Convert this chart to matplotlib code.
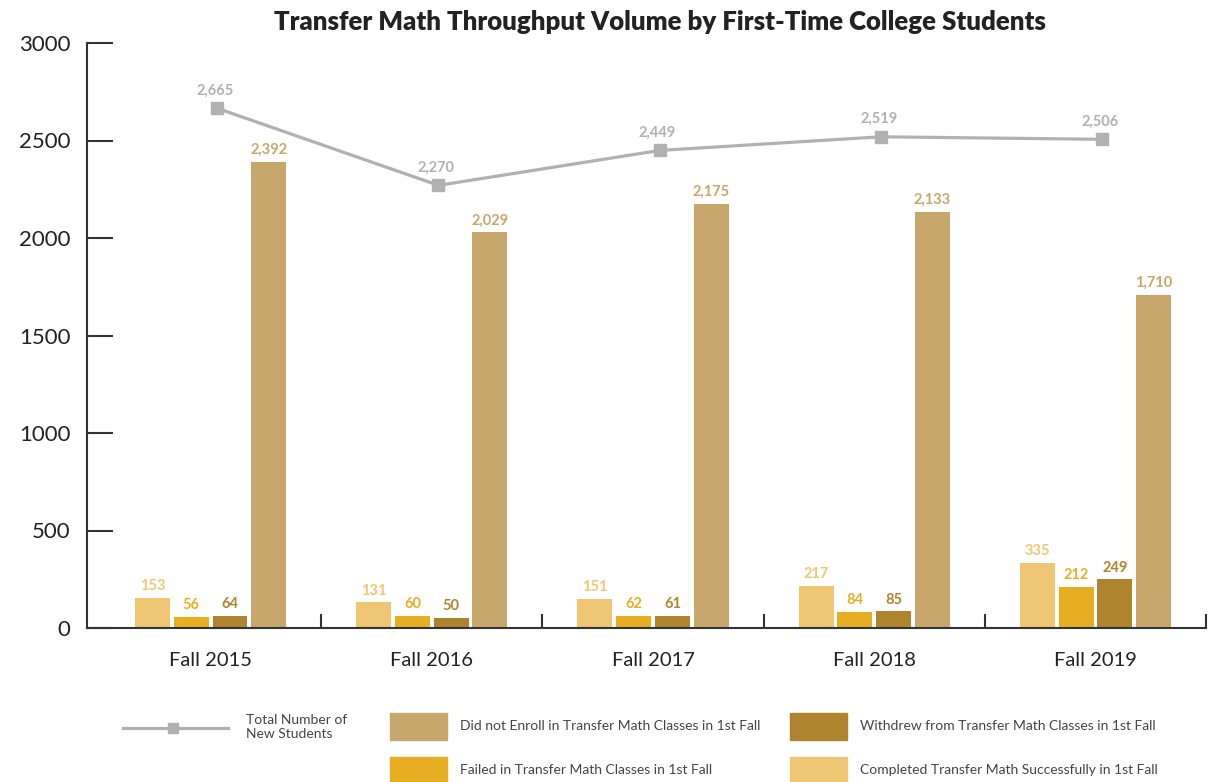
import numpy as np
import matplotlib
matplotlib.use("Agg")
import matplotlib.pyplot as plt
from matplotlib.patches import Rectangle
from matplotlib.lines import Line2D

plt.rcParams['font.family'] = ['Lato', 'DejaVu Sans']

terms = ["Fall 2015", "Fall 2016", "Fall 2017", "Fall 2018", "Fall 2019"]
total_new = [2665, 2270, 2449, 2519, 2506]
completed = [153, 131, 151, 217, 335]
failed = [56, 60, 62, 84, 212]
withdrew = [64, 50, 61, 85, 249]
not_enrolled = [2392, 2029, 2175, 2133, 1710]

c_completed = "#EFC774"
c_failed = "#E8AE23"
c_withdrew = "#AF842E"
c_notenr = "#C8A76C"
c_line = "#B1B1B4"
c_axis = "#333333"

W, H = 1212, 782
fig = plt.figure(figsize=(W / 100, H / 100), dpi=100)
ax = fig.add_axes([87 / W, 1 - 628 / H, (1206 - 87) / W, (628 - 43) / H])

x = np.arange(len(terms))
bw = 0.158
step = 0.175
series = [(completed, c_completed), (failed, c_failed),
          (withdrew, c_withdrew), (not_enrolled, c_notenr)]
for k, (vals, col) in enumerate(series):
    pos = x + (k - 1.5) * step
    ax.bar(pos, vals, width=bw, color=col, zorder=2)
    for p, v in zip(pos, vals):
        ax.text(p, v + 25, f"{v:,}", ha="center", va="bottom", color=col,
                fontsize=10.5, fontweight="bold")

xl = x + 0.03
ax.plot(xl, total_new, color=c_line, lw=2.3, marker="s", markersize=8.5, zorder=3)
for p, v in zip(xl, total_new):
    ax.text(p - 0.01, v + 55, f"{v:,}", ha="center", va="bottom", color=c_line,
            fontsize=10.5, fontweight="bold")

ax.set_xlim(-0.559, 4.5)
ax.set_ylim(0, 3000)
ax.set_yticks([0, 500, 1000, 1500, 2000, 2500, 3000])
ax.tick_params(axis="y", direction="in", length=19, width=1.5, color=c_axis,
               labelsize=16, pad=12, labelcolor="#222222")
ax.set_xticks(x)
ax.set_xticklabels(terms)
ax.tick_params(axis="x", which="major", length=0, labelsize=14.5, pad=17,
               labelcolor="#222222")
ax.set_xticks(np.arange(0.5, 5, 1), minor=True)
ax.tick_params(axis="x", which="minor", direction="in", length=10, width=1.5,
               color=c_axis)
for s in ["top", "right"]:
    ax.spines[s].set_visible(False)
for s in ["left", "bottom"]:
    ax.spines[s].set_color(c_axis)
    ax.spines[s].set_linewidth(1.5)

fig.text(660 / W, 1 - 22 / H,
         "Transfer Math Throughput Volume by First-Time College Students",
         ha="center", va="center", fontsize=18.5, fontweight="heavy", color="#222222")

# legend drawn in pixel coords
lg = fig.add_axes([0, 0, 1, 1], zorder=-1)
lg.set_xlim(0, W)
lg.set_ylim(H, 0)
lg.axis("off")
lg.add_line(Line2D([123, 228], [728, 728], color=c_line, lw=2.3))
lg.add_line(Line2D([173], [728], color=c_line, marker="s", markersize=7))
lg.text(246, 727, "Total Number of\nNew Students", va="center", ha="left",
        fontsize=10, color="#444444", linespacing=1.1)
legend_items = [
    (390, 713, c_notenr, "Did not Enroll in Transfer Math Classes in 1st Fall"),
    (790, 713, c_withdrew, "Withdrew from Transfer Math Classes in 1st Fall"),
    (390, 757, c_failed, "Failed in Transfer Math Classes in 1st Fall"),
    (790, 757, c_completed, "Completed Transfer Math Successfully in 1st Fall"),
]
for px, py, col, lab in legend_items:
    lg.add_patch(Rectangle((px, py), 57, 27, color=col))
    lg.text(px + 70, py + 13.5, lab, va="center", ha="left", fontsize=10,
            color="#444444")

fig.savefig("out.png", dpi=100)
